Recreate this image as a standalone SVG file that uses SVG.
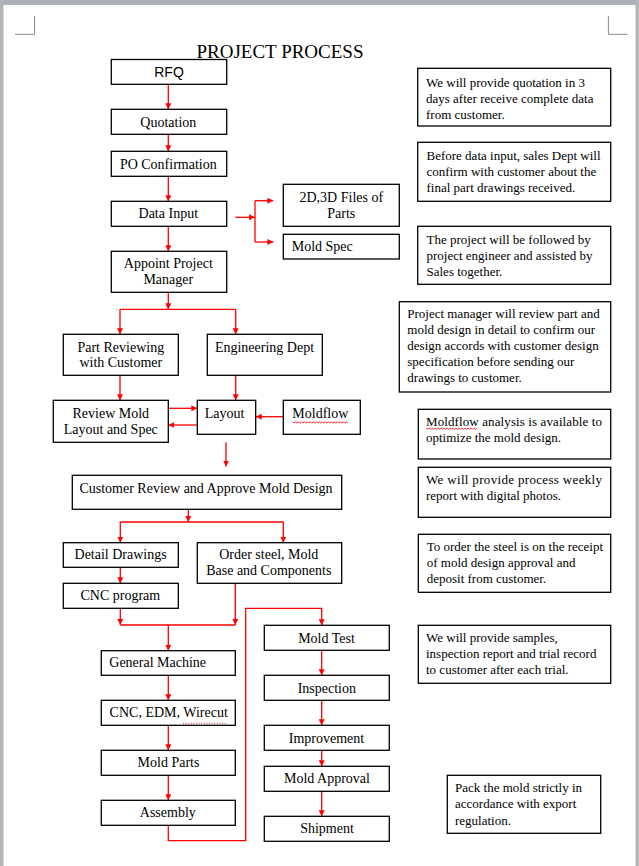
<svg xmlns="http://www.w3.org/2000/svg" width="639" height="866" viewBox="0 0 639 866">
<style>
.b{fill:#fff;stroke:#000;stroke-width:1.3}
.t{font-family:"Liberation Serif","Times New Roman",serif;font-size:14px;fill:#000}
.c{text-anchor:middle}
.s{font-family:"Liberation Sans",Arial,sans-serif;font-size:14px;fill:#000}
.n{font-family:"Liberation Serif","Times New Roman",serif;font-size:13px;fill:#000}
.a{fill:none;stroke:#f00;stroke-width:1.3}
.ar{fill:none;stroke:#f00;stroke-width:1.3;marker-end:url(#ah)}
.sq{fill:none;stroke:#e00;stroke-width:0.8}
</style>
<defs>
<marker id="ah" viewBox="0 0 6 6" refX="6" refY="3" markerWidth="6" markerHeight="6" markerUnits="userSpaceOnUse" orient="auto"><path d="M0,0 L6,3 L0,6 z" fill="#f00"/></marker>
</defs>
<rect x="0" y="0" width="639" height="866" fill="#fff"/>
<rect x="0" y="0" width="639" height="5" fill="#adb0b6"/>
<rect x="0" y="0" width="3.5" height="866" fill="#b3b5bb"/>
<rect x="635.5" y="0" width="3.5" height="866" fill="#b3b5bb"/>
<path d="M15,34.3 H34.6 V16 M608.4,16 V34.3 H627.5" fill="none" stroke="#8a8a8a" stroke-width="1"/>
<text x="280" y="58.3" class="c" font-family="Liberation Serif,Times New Roman,serif" font-size="19">PROJECT PROCESS</text>

<g id="connectors">
<path class="ar" d="M168.3,84.3 V109.3"/>
<path class="ar" d="M168.3,134.3 V151.3"/>
<path class="ar" d="M168.3,176.3 V201.3"/>
<path class="ar" d="M168.3,226.3 V251.3"/>
<path class="ar" d="M235.3,217.3 H255"/>
<path class="a" d="M255,200.7 V242"/>
<path class="ar" d="M255,200.7 H273.3"/>
<path class="ar" d="M255,242 H273.3"/>
<path class="ar" d="M168.3,292.3 V309.3"/>
<path class="a" d="M120,309.3 H235.7"/>
<path class="ar" d="M120,309.3 V334.3"/>
<path class="ar" d="M235.7,309.3 V334.3"/>
<path class="ar" d="M120,375.3 V400.3"/>
<path class="ar" d="M235.7,375.3 V400.3"/>
<path class="ar" d="M168.3,408.3 H197.3"/>
<path class="ar" d="M197.3,425 H168.3"/>
<path class="ar" d="M283.3,416.7 H255.7"/>
<path class="ar" d="M226,442.3 V466.5"/>
<path class="ar" d="M188.3,509.3 V522"/>
<path class="a" d="M120.3,522 H283.3"/>
<path class="ar" d="M120.3,522 V542.7"/>
<path class="ar" d="M283.3,522 V542.7"/>
<path class="ar" d="M120.3,567.3 V583.3"/>
<path class="ar" d="M120.3,608.3 V625"/>
<path class="ar" d="M235.3,583.3 V625"/>
<path class="a" d="M120.3,625 H235.3"/>
<path class="ar" d="M168.3,625 V650.7"/>
<path class="ar" d="M168.3,675.3 V700.3"/>
<path class="ar" d="M168.3,725.3 V750.3"/>
<path class="ar" d="M168.3,775.3 V800.3"/>
<path class="ar" d="M168.3,825.3 V840.7 H245.7 V608.3 H321.7 V625.3"/>
<path class="ar" d="M321.7,650.3 V675.3"/>
<path class="ar" d="M321.7,700.3 V725.3"/>
<path class="ar" d="M321.7,750.3 V766.3"/>
<path class="ar" d="M321.7,791.3 V816.3"/>
</g>

<g id="rfq"><rect class="b" x="111.3" y="59.5" width="115.4" height="24.8"/><text class="s c" x="169" y="76.7">RFQ</text></g>
<g id="quotation"><rect class="b" x="111.3" y="109.3" width="115.4" height="25"/><text class="t c" x="168.3" y="127">Quotation</text></g>
<g id="po"><rect class="b" x="111.3" y="151.3" width="115.4" height="25"/><text class="t c" x="168.3" y="168.5">PO Confirmation</text></g>
<g id="datainput"><rect class="b" x="111.3" y="201.3" width="115.4" height="25"/><text class="t c" x="168.3" y="218.3">Data Input</text></g>
<g id="appoint"><rect class="b" x="111.3" y="251.3" width="115.4" height="41"/><text class="t c" x="168.3" y="268.3">Appoint Project<tspan x="168.3" y="284">Manager</tspan></text></g>
<g id="files"><rect class="b" x="283.3" y="184.3" width="116" height="42"/><text class="t c" x="341.3" y="202.3">2D,3D Files of<tspan x="341.3" y="217.7">Parts</tspan></text></g>
<g id="moldspec"><rect class="b" x="283.3" y="234.3" width="116" height="24.7"/><text class="t" x="291.7" y="251">Mold Spec</text></g>
<g id="partreview"><rect class="b" x="63.3" y="334.3" width="115" height="41"/><text class="t c" x="120.8" y="351.7">Part Reviewing<tspan x="120.8" y="367.3">with Customer</tspan></text></g>
<g id="engineering"><rect class="b" x="207.3" y="334.3" width="115" height="41"/><text class="t c" x="264.5" y="351.7">Engineering Dept</text></g>
<g id="reviewmold"><rect class="b" x="53.3" y="400.3" width="115" height="42"/><text class="t c" x="110.8" y="417.7">Review Mold<tspan x="110.8" y="434">Layout and Spec</tspan></text></g>
<g id="layout"><rect class="b" x="197.3" y="400.3" width="58.4" height="34"/><text class="t c" x="224.5" y="417.7">Layout</text></g>
<g id="moldflow"><rect class="b" x="283.3" y="400.3" width="77" height="34"/><text class="t" x="292.3" y="417.7">Moldflow</text><path class="sq" d="M292.3,421.7 l1.5,1.5 l1.5,-1.5 l1.5,1.5 l1.5,-1.5 l1.5,1.5 l1.5,-1.5 l1.5,1.5 l1.5,-1.5 l1.5,1.5 l1.5,-1.5 l1.5,1.5 l1.5,-1.5 l1.5,1.5 l1.5,-1.5 l1.5,1.5 l1.5,-1.5 l1.5,1.5 l1.5,-1.5 l1.5,1.5 l1.5,-1.5 l1.5,1.5 l1.5,-1.5 l1.5,1.5 l1.5,-1.5 l1.5,1.5 l1.5,-1.5 l1.5,1.5 l1.5,-1.5 l1.5,1.5 l1.5,-1.5 l1.5,1.5 l1.5,-1.5 l1.5,1.5 l1.5,-1.5 l1.5,1.5 l1.5,-1.5 l1.5,1.5"/></g>
<g id="customerreview"><rect class="b" x="72.3" y="475.3" width="269.4" height="34"/><text class="t c" x="206" y="492.7">Customer Review and Approve Mold Design</text></g>
<g id="detaildrawings"><rect class="b" x="63.3" y="542.7" width="115" height="24.6"/><text class="t c" x="120.6" y="559.3">Detail Drawings</text></g>
<g id="ordersteel"><rect class="b" x="197.3" y="542.7" width="144.4" height="40.6"/><text class="t c" x="268.8" y="559.3">Order steel, Mold<tspan x="268.8" y="575">Base and Components</tspan></text></g>
<g id="cncprogram"><rect class="b" x="63.3" y="583.3" width="115" height="25"/><text class="t c" x="120.3" y="600">CNC program</text></g>
<g id="generalmachine"><rect class="b" x="101.3" y="650.7" width="134" height="24.6"/><text class="t" x="109.3" y="666.7">General Machine</text></g>
<g id="cncedm"><rect class="b" x="101.3" y="700.3" width="134" height="25"/><text class="t c" x="168.7" y="717.3">CNC, EDM, Wirecut</text><path d="M183,723.3 H227.3" stroke="#b22" stroke-width="0.9" stroke-dasharray="1,1.6" fill="none"/></g>
<g id="moldparts"><rect class="b" x="101.3" y="750.3" width="134" height="25"/><text class="t c" x="168.5" y="767.3">Mold Parts</text></g>
<g id="assembly"><rect class="b" x="101.3" y="800.3" width="134" height="25"/><text class="t c" x="167.8" y="816.7">Assembly</text></g>
<g id="moldtest"><rect class="b" x="264.3" y="625.3" width="125" height="25"/><text class="t c" x="326.5" y="642.7">Mold Test</text></g>
<g id="inspection"><rect class="b" x="264.3" y="675.3" width="125" height="25"/><text class="t c" x="326.8" y="692.7">Inspection</text></g>
<g id="improvement"><rect class="b" x="264.3" y="725.3" width="125" height="25"/><text class="t c" x="326.5" y="742.7">Improvement</text></g>
<g id="moldapproval"><rect class="b" x="264.3" y="766.3" width="125" height="25"/><text class="t c" x="327" y="783.3">Mold Approval</text></g>
<g id="shipment"><rect class="b" x="264.3" y="816.3" width="125" height="25"/><text class="t c" x="327" y="833.3">Shipment</text></g>

<g id="note1"><rect class="b" x="417.7" y="68.3" width="193" height="57.7"/><text class="n" x="426" y="87.3">We will provide quotation in 3<tspan x="426" y="103.3">days after receive complete data</tspan><tspan x="426" y="119.3">from customer.</tspan></text></g>
<g id="note2"><rect class="b" x="417.7" y="142.3" width="193" height="59"/><text class="n" x="426.5" y="159.7">Before data input, sales Dept will<tspan x="426.5" y="175.7">confirm with customer about the</tspan><tspan x="426.5" y="191.7">final part drawings received.</tspan></text></g>
<g id="note3"><rect class="b" x="417.7" y="226.3" width="193" height="58"/><text class="n" x="426.5" y="244">The project will be followed by<tspan x="426.5" y="260">project engineer and assisted by</tspan><tspan x="426.5" y="276">Sales together.</tspan></text></g>
<g id="note4"><rect class="b" x="399.3" y="301.7" width="211.4" height="90.3"/><text class="n" x="407.3" y="318.3">Project manager will review part and<tspan x="407.3" y="334.3">mold design in detail to confirm our</tspan><tspan x="407.3" y="350.3">design accords with customer design</tspan><tspan x="407.3" y="366.3">specification before sending our</tspan><tspan x="407.3" y="382.3">drawings to customer.</tspan></text></g>
<g id="note5"><rect class="b" x="418.3" y="409.3" width="192.4" height="49.7"/><text class="n" x="426" y="425.7" textLength="176" lengthAdjust="spacing">Moldflow analysis is available to</text><text class="n" x="426" y="441.7">optimize the mold design.</text><path class="sq" d="M426,427.9 l1.5,1.5 l1.5,-1.5 l1.5,1.5 l1.5,-1.5 l1.5,1.5 l1.5,-1.5 l1.5,1.5 l1.5,-1.5 l1.5,1.5 l1.5,-1.5 l1.5,1.5 l1.5,-1.5 l1.5,1.5 l1.5,-1.5 l1.5,1.5 l1.5,-1.5 l1.5,1.5 l1.5,-1.5 l1.5,1.5 l1.5,-1.5 l1.5,1.5 l1.5,-1.5 l1.5,1.5 l1.5,-1.5 l1.5,1.5 l1.5,-1.5 l1.5,1.5 l1.5,-1.5 l1.5,1.5 l1.5,-1.5 l1.5,1.5 l1.5,-1.5 l1.5,1.5 l1.5,-1.5"/></g>
<g id="note6"><rect class="b" x="418.3" y="467.3" width="192.4" height="50"/><text class="n" x="426" y="484" textLength="176" lengthAdjust="spacing">We will provide process weekly</text><text class="n" x="426" y="500">report with digital photos.</text></g>
<g id="note7"><rect class="b" x="418.3" y="534.3" width="192.4" height="58"/><text class="n" x="426.7" y="550.7">To order the steel is on the receipt<tspan x="426.7" y="566.7">of mold design approval and</tspan><tspan x="426.7" y="583">deposit from customer.</tspan></text></g>
<g id="note8"><rect class="b" x="418.3" y="625.3" width="192.4" height="58"/><text class="n" x="426" y="641.7">We will provide samples,<tspan x="426" y="658">inspection report and trial record</tspan><tspan x="426" y="674">to customer after each trial.</tspan></text></g>
<g id="note9"><rect class="b" x="447.3" y="775.3" width="153.4" height="58"/><text class="n" x="455" y="791.7">Pack the mold strictly in<tspan x="455" y="808.3">accordance with export</tspan><tspan x="455" y="825">regulation.</tspan></text></g>
</svg>
